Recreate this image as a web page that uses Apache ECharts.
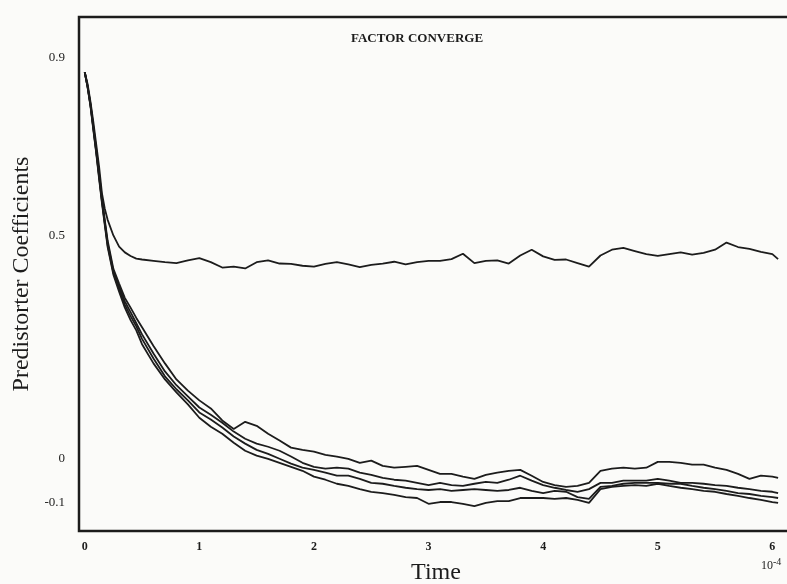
<!DOCTYPE html>
<html>
<head>
<meta charset="utf-8">
<script src="https://cdn.jsdelivr.net/npm/echarts@6/dist/echarts.min.js"></script>
<style>
  html, body { margin: 0; padding: 0; background: #fbfbf9; }
  #main { width: 787px; height: 584px; }
</style>
</head>
<body>
<div id="main"></div>
<script>
// time axis (x 10^-4)
var times = [0, 0.025, 0.05, 0.075, 0.1, 0.125, 0.15, 0.175, 0.2, 0.25, 0.3, 0.35, 0.4, 0.45, 0.5,
  0.6, 0.7, 0.8, 0.9, 1.0, 1.1, 1.2, 1.3, 1.4, 1.5,
  1.6, 1.7, 1.8, 1.9, 2.0, 2.1, 2.2, 2.3, 2.4, 2.5,
  2.6, 2.7, 2.8, 2.9, 3.0, 3.1, 3.2, 3.3, 3.4, 3.5,
  3.6, 3.7, 3.8, 3.9, 4.0, 4.1, 4.2, 4.3, 4.4, 4.5,
  4.6, 4.7, 4.8, 4.9, 5.0, 5.1, 5.2, 5.3, 5.4, 5.5,
  5.6, 5.7, 5.8, 5.9, 6.0, 6.05];

// upper coefficient
var coefA = [0.866, 0.840, 0.800, 0.755, 0.705, 0.655, 0.595, 0.560, 0.535, 0.500, 0.475, 0.462, 0.454, 0.448, 0.446,
  0.443, 0.440, 0.438, 0.444, 0.449, 0.440, 0.428, 0.430, 0.426, 0.440,
  0.444, 0.437, 0.436, 0.432, 0.430, 0.436, 0.440, 0.435, 0.429, 0.434,
  0.437, 0.441, 0.435, 0.440, 0.443, 0.443, 0.447, 0.459, 0.438, 0.443,
  0.444, 0.437, 0.455, 0.468, 0.453, 0.445, 0.446, 0.438, 0.430, 0.455,
  0.468, 0.472, 0.465, 0.458, 0.454, 0.458, 0.462, 0.457, 0.461, 0.468,
  0.484, 0.474, 0.470, 0.463, 0.458, 0.447];

// the four lower coefficients
var coefB = [0.866, 0.835, 0.795, 0.745, 0.695, 0.640, 0.585, 0.535, 0.488, 0.425, 0.392, 0.360, 0.338, 0.315, 0.294,
  0.252, 0.213, 0.177, 0.152, 0.130, 0.112, 0.085, 0.066, 0.082, 0.073,
  0.055, 0.040, 0.024, 0.019, 0.015, 0.008, 0.004, -0.001, -0.010, -0.005,
  -0.017, -0.021, -0.019, -0.017, -0.026, -0.035, -0.035, -0.041, -0.046, -0.037,
  -0.032, -0.028, -0.026, -0.039, -0.053, -0.060, -0.064, -0.062, -0.055, -0.028,
  -0.023, -0.021, -0.023, -0.021, -0.008, -0.008, -0.010, -0.014, -0.014, -0.021,
  -0.026, -0.035, -0.046, -0.039, -0.041, -0.044];

var coefC = [0.866, 0.834, 0.793, 0.742, 0.690, 0.635, 0.580, 0.530, 0.482, 0.420, 0.386, 0.352, 0.328, 0.303, 0.278,
  0.235, 0.195, 0.164, 0.139, 0.114, 0.098, 0.080, 0.060, 0.044, 0.033,
  0.026, 0.017, 0.004, -0.010, -0.019, -0.023, -0.021, -0.023, -0.032, -0.037,
  -0.044, -0.048, -0.050, -0.055, -0.060, -0.055, -0.060, -0.062, -0.057, -0.053,
  -0.055, -0.048, -0.039, -0.050, -0.060, -0.066, -0.071, -0.075, -0.069, -0.055,
  -0.055, -0.050, -0.050, -0.050, -0.046, -0.050, -0.055, -0.055, -0.057, -0.060,
  -0.062, -0.066, -0.069, -0.073, -0.075, -0.078];

var coefD = [0.866, 0.833, 0.792, 0.740, 0.688, 0.632, 0.577, 0.527, 0.478, 0.416, 0.380, 0.345, 0.319, 0.296, 0.268,
  0.224, 0.184, 0.155, 0.130, 0.103, 0.087, 0.069, 0.049, 0.033, 0.019,
  0.010, -0.001, -0.012, -0.021, -0.026, -0.032, -0.039, -0.039, -0.046, -0.055,
  -0.057, -0.062, -0.066, -0.069, -0.071, -0.069, -0.073, -0.071, -0.069, -0.071,
  -0.073, -0.071, -0.066, -0.073, -0.078, -0.073, -0.075, -0.087, -0.091, -0.064,
  -0.062, -0.057, -0.055, -0.055, -0.055, -0.057, -0.057, -0.062, -0.066, -0.069,
  -0.073, -0.078, -0.080, -0.084, -0.087, -0.089];

var coefE = [0.866, 0.832, 0.790, 0.737, 0.685, 0.628, 0.573, 0.523, 0.474, 0.412, 0.374, 0.338, 0.310, 0.287, 0.256,
  0.213, 0.177, 0.148, 0.121, 0.091, 0.071, 0.055, 0.035, 0.017, 0.006,
  -0.001, -0.010, -0.019, -0.028, -0.041, -0.048, -0.057, -0.062, -0.069, -0.075,
  -0.078, -0.082, -0.087, -0.089, -0.102, -0.098, -0.098, -0.102, -0.107, -0.100,
  -0.096, -0.096, -0.089, -0.089, -0.089, -0.091, -0.089, -0.093, -0.100, -0.069,
  -0.064, -0.062, -0.060, -0.062, -0.057, -0.062, -0.066, -0.069, -0.073, -0.075,
  -0.080, -0.084, -0.089, -0.093, -0.098, -0.100];

var xTicks = [0, 1, 2, 3, 4, 5, 6];
var yTicks = [0.9, 0.5, 0, -0.1];

var serif = '"Liberation Serif", "DejaVu Serif", serif';
var ink = '#1c1c1c';

function pairs(vals) {
  var out = [];
  for (var i = 0; i < times.length; i++) out.push([times[i], vals[i]]);
  return out;
}

function line(vals) {
  return {
    type: 'line',
    data: pairs(vals),
    showSymbol: false,
    symbol: 'none',
    lineStyle: { color: ink, width: 1.8 },
    silent: true
  };
}

var myChart = echarts.init(document.getElementById('main'));
myChart.setOption({
  animation: false,
  backgroundColor: '#fbfbf9',
  title: {
    text: 'FACTOR CONVERGE',
    left: 346,
    top: 27,
    textStyle: { fontFamily: serif, fontSize: 13, fontWeight: 'bold', color: ink }
  },
  grid: {
    left: 79, right: -6, top: 17, bottom: 53,
    outerBoundsMode: 'none',
    containLabel: false,
    show: true,
    borderColor: ink,
    borderWidth: 2.5
  },
  xAxis: {
    type: 'value',
    min: -0.05,
    max: 6.18,
    name: 'Time',
    nameLocation: 'middle',
    nameGap: 30,
    nameTextStyle: { fontFamily: serif, fontSize: 24, color: ink },
    axisLine: { show: false },
    axisTick: { show: false },
    splitLine: { show: false },
    axisLabel: {
      customValues: xTicks,
      margin: 10,
      fontFamily: serif,
      fontSize: 12,
      fontWeight: 'bold',
      color: ink
    }
  },
  yAxis: {
    type: 'value',
    min: -0.163,
    max: 0.99,
    name: 'Predistorter Coefficients',
    nameLocation: 'middle',
    nameRotate: 90,
    nameGap: 42,
    nameTextStyle: { fontFamily: serif, fontSize: 24, color: ink },
    axisLine: { show: false },
    axisTick: { show: false },
    splitLine: { show: false },
    axisLabel: {
      customValues: yTicks,
      margin: 14,
      fontFamily: serif,
      fontSize: 13,
      color: ink
    }
  },
  graphic: [{
    type: 'text',
    left: 761,
    top: 557,
    style: {
      text: '{b|10}{s|-4}',
      rich: {
        b: { fontFamily: serif, fontSize: 12, fill: ink },
        s: { fontFamily: serif, fontSize: 10, fill: ink, verticalAlign: 'top', padding: [0, 0, 8, 0] }
      }
    }
  }],
  series: [line(coefA), line(coefB), line(coefC), line(coefD), line(coefE)]
});
</script>
</body>
</html>
